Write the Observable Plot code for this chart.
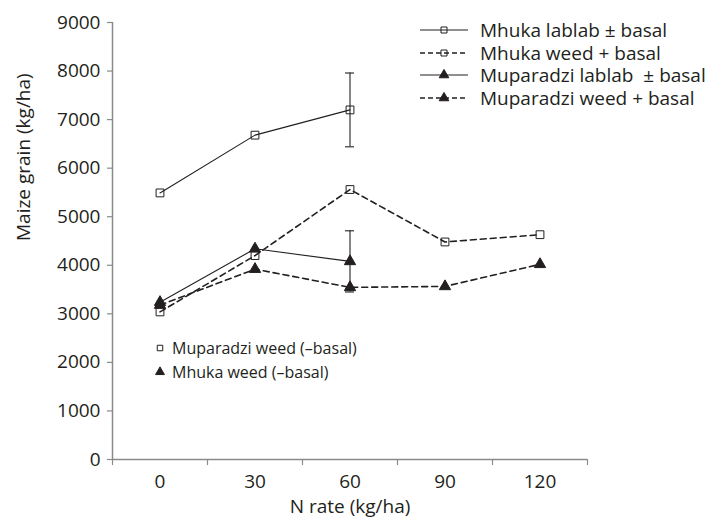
<!DOCTYPE html>
<html>
<head>
<meta charset="utf-8">
<script src="https://cdn.jsdelivr.net/npm/d3@7"></script>
<script src="https://cdn.jsdelivr.net/npm/@observablehq/plot@0.6"></script>
<style>
  html, body { margin: 0; padding: 0; background: #fff; }
  #wrap { position: relative; width: 706px; height: 532px; font-family: "Open Sans", sans-serif; color: #231f20; }
  .leg { position: absolute; display: flex; align-items: center; height: 20px; font-size: 19px; line-height: 20px; white-space: pre; }
  .leg span { display: block; height: 20px; line-height: 20px; overflow: visible; }
  .leg.small { font-size: 16px; }
  .leg svg { display: block; }
</style>
</head>
<body>
<div id="wrap"></div>
<script>
// ---- data ----
const nRates = [0, 30, 60, 90, 120];
const nBounds = [-15, 15, 45, 75, 105, 135];
const yTicks = [0, 1000, 2000, 3000, 4000, 5000, 6000, 7000, 8000, 9000];

const seriesNames = [
  "Mhuka lablab \u00b1 basal",
  "Mhuka weed + basal",
  "Muparadzi lablab  \u00b1 basal",
  "Muparadzi weed + basal"
];
const mhukaLablab = [5490, 6680, 7200];
const mhukaLablabErr = [null, null, 760];
const mhukaWeed = [3040, 4200, 5560, 4480, 4630];
const muparadziLablab = [3240, 4340, 4080];
const muparadziLablabErr = [null, null, 630];
const muparadziWeed = [3180, 3920, 3545, 3565, 4020];

const noBasalLabels = ["Muparadzi weed (\u2013basal)", "Mhuka weed (\u2013basal)"];

// ---- table ----
const valuesBySeries = [mhukaLablab, mhukaWeed, muparadziLablab, muparadziWeed];
const errsBySeries = [mhukaLablabErr, [], muparadziLablabErr, []];
const symbols = ["square", "square", "triangle", "triangle"];
const dashed = [false, true, false, true];
const rows = [];
valuesBySeries.forEach((vals, s) => {
  vals.forEach((v, i) => rows.push({s, series: seriesNames[s], n: nRates[i], v, err: errsBySeries[s][i] ?? null}));
});
const errRows = rows.filter(d => d.err != null);

const ink = "#231f20";
const axisGray = "#8a8a8a";

const lineMarks = [];
const dotMarks = [];
seriesNames.forEach((name, s) => {
  const data = rows.filter(d => d.s === s);
  lineMarks.push(Plot.line(data, {
    x: "n", y: "v", stroke: ink,
    strokeWidth: dashed[s] ? 1.6 : 1.1,
    strokeDasharray: dashed[s] ? "6,4" : null
  }));
  dotMarks.push(Plot.dot(data, {
    x: "n", y: "v", symbol: () => symbols[s],
    r: symbols[s] === "square" ? 4.4 : 4.2,
    fill: symbols[s] === "square" ? "none" : ink,
    stroke: ink, strokeWidth: 1
  }));
});

const chart = Plot.plot({
  width: 706,
  height: 532,
  marginLeft: 112,
  marginRight: 119,
  marginTop: 22,
  marginBottom: 73,
  style: { fontFamily: "Open Sans, sans-serif", fontSize: "19px", color: ink, background: "white" },
  x: { type: "linear", domain: [nBounds[0], nBounds[nBounds.length - 1]], axis: null },
  y: { type: "linear", domain: [yTicks[0], yTicks[yTicks.length - 1]], axis: null },
  symbol: { type: "identity" },
  marks: [
    Plot.ruleY([yTicks[0]], { stroke: axisGray, strokeWidth: 1.5 }),
    Plot.ruleX([nBounds[0]], { stroke: axisGray, strokeWidth: 1.5 }),
    Plot.axisY({ ticks: yTicks, tickSize: 5, tickPadding: 7, stroke: axisGray, strokeWidth: 1.2, fill: ink, fontSize: 19, label: null, tickFormat: d => String(d) }),
    Plot.axisX({ ticks: nBounds, tickSize: 6, stroke: axisGray, strokeWidth: 1.2, tickFormat: () => "", label: null }),
    Plot.axisX({ ticks: nRates, tickSize: 0, tickPadding: 15, fill: ink, fontSize: 19, label: null, tickFormat: d => String(d) }),
    Plot.text(["Maize grain (kg/ha)"], { frameAnchor: "left", rotate: -90, dx: -89, fill: ink, fontSize: 19 }),
    Plot.text(["N rate (kg/ha)"], { frameAnchor: "bottom", lineAnchor: "middle", dy: 47, fill: ink, fontSize: 19 }),
    ...lineMarks,
    Plot.ruleX(errRows, { x: "n", y1: d => d.v - d.err, y2: d => d.v + d.err, stroke: ink, strokeWidth: 1.1 }),
    Plot.ruleY(errRows, { y: d => d.v + d.err, x1: "n", x2: "n", insetLeft: -4.5, insetRight: -4.5, stroke: ink, strokeWidth: 1.1 }),
    Plot.ruleY(errRows, { y: d => d.v - d.err, x1: "n", x2: "n", insetLeft: -4.5, insetRight: -4.5, stroke: ink, strokeWidth: 1.1 }),
    ...dotMarks
  ]
});

const wrap = document.getElementById("wrap");
wrap.appendChild(chart);

// ---- legends (HTML overlay) ----
const sw = 50;
const ns = "http://www.w3.org/2000/svg";
function symPath(s, size) {
  return d3.symbol(symbols[s] === "square" ? d3.symbolSquare : d3.symbolTriangle, size)();
}
function legendRow(top, left, s, label) {
  const row = document.createElement("div");
  row.className = "leg";
  row.style.top = top + "px";
  row.style.left = left + "px";
  const svg = document.createElementNS(ns, "svg");
  svg.setAttribute("width", sw);
  svg.setAttribute("height", 20);
  const ln = document.createElementNS(ns, "line");
  ln.setAttribute("x1", 0); ln.setAttribute("x2", sw - 2);
  ln.setAttribute("y1", 10); ln.setAttribute("y2", 10);
  ln.setAttribute("stroke", ink);
  ln.setAttribute("stroke-width", dashed[s] ? 1.5 : 1.1);
  if (dashed[s]) ln.setAttribute("stroke-dasharray", "5,3");
  svg.appendChild(ln);
  const sym = document.createElementNS(ns, "path");
  sym.setAttribute("d", symPath(s, symbols[s] === "square" ? 36 : 40));
  sym.setAttribute("transform", "translate(24,10)");
  sym.setAttribute("fill", symbols[s] === "square" ? "none" : ink);
  sym.setAttribute("stroke", ink);
  svg.appendChild(sym);
  row.appendChild(svg);
  const t = document.createElement("span");
  t.textContent = label;
  t.style.marginLeft = "10px";
  row.appendChild(t);
  wrap.appendChild(row);
}
seriesNames.forEach((name, s) => legendRow(20 + s * 22.7, 420, s, name));

function pointRow(top, left, s, label) {
  const row = document.createElement("div");
  row.className = "leg small";
  row.style.top = top + "px";
  row.style.left = left + "px";
  const svg = document.createElementNS(ns, "svg");
  svg.setAttribute("width", 10);
  svg.setAttribute("height", 20);
  const sym = document.createElementNS(ns, "path");
  sym.setAttribute("d", symPath(s, symbols[s] === "square" ? 30 : 34));
  sym.setAttribute("transform", "translate(5,10)");
  sym.setAttribute("fill", symbols[s] === "square" ? "none" : ink);
  sym.setAttribute("stroke", ink);
  svg.appendChild(sym);
  row.appendChild(svg);
  const t = document.createElement("span");
  t.textContent = label;
  t.style.marginLeft = "7px";
  row.appendChild(t);
  wrap.appendChild(row);
}
pointRow(338, 155, 1, noBasalLabels[0]);
pointRow(362, 155, 3, noBasalLabels[1]);
</script>
</body>
</html>
